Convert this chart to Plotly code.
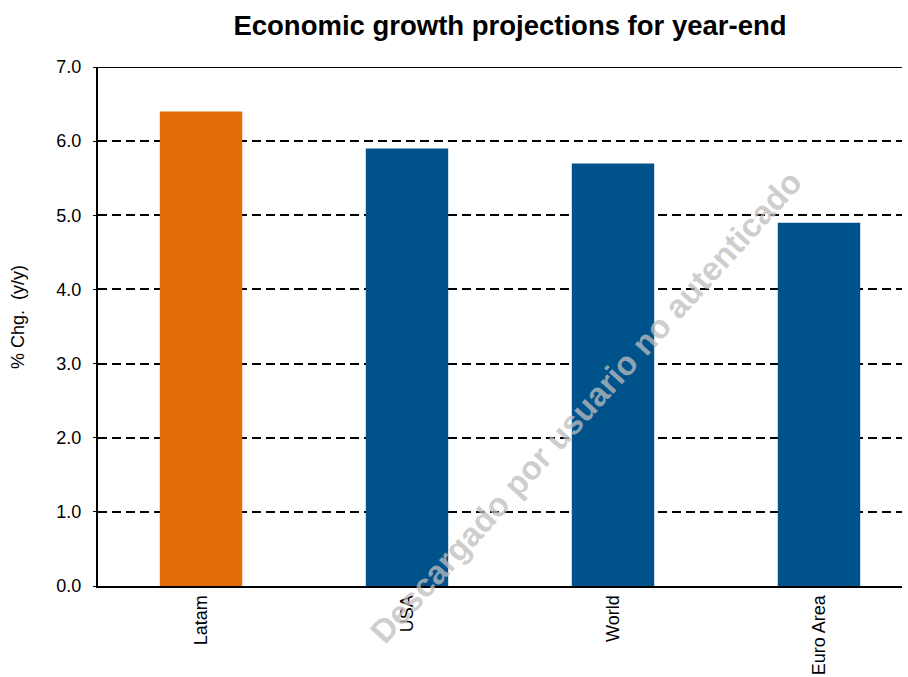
import plotly.graph_objects as go

categories = ["Latam", "USA", "World", "Euro Area"]
values = [6.4, 5.9, 5.7, 4.9]
bar_colors = ["#E46C0A", "#00538A", "#00538A", "#00538A"]
y_ticks = [0, 1, 2, 3, 4, 5, 6, 7]

FONT = "Arial, Liberation Sans, sans-serif"

fig = go.Figure()
fig.add_trace(go.Bar(
    x=categories, y=values, marker=dict(color=bar_colors, line=dict(width=0)),
    width=0.4, showlegend=False,
))

L, R, T, B = 98, 6, 67, 91
W, H = 908, 677

fig.update_layout(
    width=W, height=H,
    margin=dict(l=L, r=R, t=T, b=B, autoexpand=False),
    paper_bgcolor="white", plot_bgcolor="white",
    font=dict(family=FONT, color="black", size=18),
    title=dict(text="<b>Economic growth projections for year-end</b>",
               x=(510) / W, xanchor="center", y=1 - 25 / H, yanchor="middle",
               font=dict(size=27.5, family=FONT, color="black")),
    xaxis=dict(
        range=[-0.5, 3.5 - (922 - 902) / 206], automargin=False,
        showline=True, linecolor="black", linewidth=2,
        tickangle=-90, tickfont=dict(size=18), ticks="", showgrid=False,
    ),
    yaxis=dict(
        range=[0, 7], tickvals=y_ticks, tickformat=".1f", automargin=False,
        showline=True, linecolor="black", linewidth=2,
        ticks="outside", ticklen=3, tickcolor="black", tickwidth=1,
        showgrid=True, gridcolor="black", gridwidth=1.5, griddash="9px,5px",
        zeroline=False, tickfont=dict(size=18), ticklabelstandoff=8,
    ),
    bargap=0.6,
)

fig.add_shape(type="line", xref="paper", yref="y", x0=0, x1=1, y0=7, y1=7,
              line=dict(color="black", width=2), layer="above")

fig.add_annotation(
    text="% Chg.  (y/y)", xref="paper", yref="paper",
    x=(18 - L) / (W - L - R), y=(H - B - 317) / (H - T - B),
    xanchor="center", yanchor="middle", showarrow=False, textangle=-90,
    font=dict(size=18, family=FONT, color="black"),
)

fig.add_annotation(
    text="<b>Descargado por usuario no autenticado</b>",
    xref="paper", yref="paper",
    x=(585 - L) / (W - L - R), y=(H - B - 407) / (H - T - B),
    showarrow=False, textangle=-47.8,
    font=dict(size=33, family=FONT, color="rgba(190,190,190,0.75)"),
)

fig.write_html("out.html")
